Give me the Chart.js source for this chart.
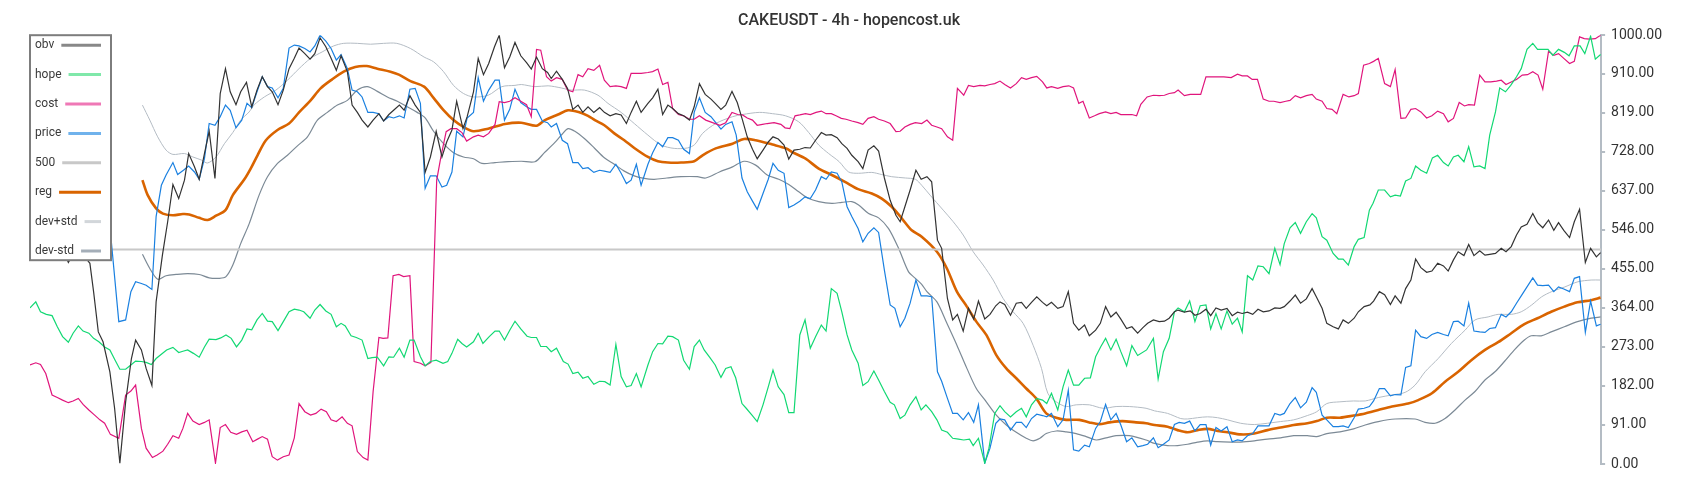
<!DOCTYPE html>
<html>
<head>
<meta charset="utf-8">
<script src="https://cdn.jsdelivr.net/npm/chart.js@4.4.1/dist/chart.umd.min.js"></script>
<style>
  html, body { margin: 0; padding: 0; background: #fff; }
  #wrap { width: 1700px; height: 500px; }
</style>
</head>
<body>
<div id="wrap"><canvas id="chart" width="1700" height="500"></canvas></div>
<script>
// ====== DATA (x = candle index, y = scaled value) ======
const titleText = 'CAKEUSDT - 4h - hopencost.uk';
const yTicks = [0, 91, 182, 273, 364, 455, 546, 637, 728, 819, 910, 1000];
const yMin = 0, yMax = 1000;
const lastIndex = 299;

const obv = [[0,600],[2,570],[4,540],[5.5,520],[7.3,470],[9,505],[11.4,468],[12.1,402],[13,308],[13.9,285],[15.2,215],[16.1,130],[17.1,2],[18.2,145],[19.3,246],[20.1,289],[21.2,266],[22.1,223],[23.2,183],[24,378],[25.2,487],[26.2,565],[27.2,652],[28.3,619],[29.4,662],[30.2,724],[31.3,693],[32.2,664],[33.2,724],[34.1,776],[35.2,666],[36.2,864],[37.2,922],[38.1,868],[39.2,838],[40.1,868],[41.2,890],[42.2,833],[43.2,872],[44.2,903],[45.2,880],[46.1,868],[47.2,838],[48.2,872],[49.3,922],[50.3,946],[51.2,970],[52.3,957],[53.3,944],[54.2,957],[55.2,994],[56.3,973],[57.3,946],[58.3,918],[59.2,952],[60.4,915],[61.3,837],[62.3,820],[63.2,802],[64.3,786],[65.3,802],[66.4,817],[67.3,800],[68.3,815],[69.2,825],[70.3,837],[71.2,825],[72.3,859],[73.3,837],[74.3,820],[75.2,680],[76.2,716],[77.3,776],[78.4,716],[79.3,751],[80.3,779],[81.2,846],[82.4,782],[83.2,810],[84.4,868],[85.3,946],[86.3,908],[87.3,934],[88.4,973],[89.3,1000],[90.3,924],[91.3,949],[92.3,983],[93.4,952],[94.5,936],[95.4,921],[96.4,949],[97.5,922],[98.5,913],[99.2,899],[100.2,916],[101.3,897],[102.3,876],[103.3,827],[104.3,837],[105.2,820],[106.2,833],[107.3,820],[108.4,831],[109.3,820],[110.4,812],[111.5,817],[112.5,814],[113.5,794],[114.4,820],[115.4,846],[116.3,820],[117.6,841],[118.5,854],[119.5,874],[120.4,815],[121.4,837],[122.3,829],[123.4,817],[124.4,812],[125.5,802],[126.4,833],[127.4,887],[128.5,862],[129.6,851],[130.4,841],[131.5,827],[132.4,837],[133.6,869],[134.6,843],[135.6,802],[136.5,763],[137.5,734],[138.4,712],[139.5,732],[140.5,751],[141.4,763],[142.4,758],[143.5,744],[144.4,711],[145.4,732],[146.5,734],[147.5,738],[148.5,737],[149.5,755],[150.6,773],[151.5,767],[152.5,768],[153.6,761],[154.5,747],[155.5,736],[156.4,720],[157.6,705],[158.5,689],[159.5,732],[160.6,742],[161.5,730],[162.6,667],[163.7,615],[164.8,580],[165.6,565],[166.5,600],[167.5,639],[168.6,685],[169.6,664],[170.7,670],[171.6,658],[172.7,522],[173.5,503],[174.6,386],[175.6,336],[176.5,349],[177.6,310],[178.6,363],[179.6,338],[180.5,380],[181.7,338],[182.7,349],[183.8,369],[184.6,378],[185.5,372],[186.6,347],[187.7,375],[188.7,377],[189.6,363],[190.6,377],[191.6,390],[192.7,377],[193.5,369],[194.4,377],[195.6,363],[196.6,367],[197.6,402],[198.6,328],[199.6,312],[200.7,324],[201.6,299],[202.8,312],[203.7,328],[204.7,367],[205.7,343],[206.7,354],[207.6,338],[208.7,316],[209.7,320],[210.8,305],[211.8,318],[212.7,328],[213.8,336],[214.9,332],[215.9,333],[216.8,340],[217.8,355],[218.5,359],[219.7,354],[220.8,357],[221.7,347],[222.7,351],[223.8,361],[224.7,346],[225.7,364],[226.7,359],[227.8,363],[228.8,346],[229.8,354],[230.7,351],[231.7,354],[232.7,349],[233.7,361],[234.7,355],[235.8,357],[236.9,364],[237.9,363],[238.7,367],[239.8,380],[240.8,394],[241.8,375],[242.9,385],[244,409],[244.8,390],[245.9,363],[246.8,328],[248,320],[249,315],[249.9,336],[250.9,328],[252,340],[252.8,355],[253.9,367],[255,371],[255.7,380],[256.8,402],[257.8,395],[258.9,372],[259.8,392],[260.9,375],[261.8,409],[262.8,429],[263.7,478],[264.7,458],[265.8,447],[266.8,450],[267.9,468],[269,462],[269.9,450],[270.9,476],[271.8,495],[272.9,486],[273.8,512],[274.8,486],[275.9,497],[276.9,487],[277.8,489],[278.9,491],[280,503],[280.9,495],[281.9,507],[282.9,534],[283.8,553],[284.9,559],[286,584],[286.9,563],[287.9,551],[289,569],[290,545],[290.9,563],[291.9,545],[293,528],[293.9,565],[294.9,594],[296,470],[297,503],[298.1,483],[298.9,493]];

const hope = [[0,364],[1.1,378],[2,355],[3.1,349],[4.2,346],[5.2,320],[6.2,297],[7.3,284],[8.2,305],[9.2,322],[10.1,310],[11.2,305],[12.1,293],[13.1,285],[14.2,273],[15.2,266],[16.2,242],[17.1,221],[18.2,221],[19.2,231],[20.1,240],[21.2,239],[22.1,237],[23.1,232],[24,246],[25,256],[26,266],[27.2,272],[28.3,260],[29.1,263],[30,266],[31.1,258],[32.2,249],[33.2,273],[34.1,291],[35.4,290],[36.3,294],[37.3,301],[38.3,293],[39.3,273],[40.3,289],[41.3,315],[42.2,313],[43.2,336],[44.2,351],[45.2,333],[46.1,332],[47.2,311],[48.4,336],[49.3,355],[50.3,361],[51.2,359],[52.1,355],[53.3,340],[54.2,359],[55.2,372],[56.3,357],[57.3,349],[58.3,320],[59.2,328],[60,322],[61.1,299],[62.1,295],[63.2,289],[64.3,246],[65.1,248],[66.1,249],[67.3,229],[68.3,250],[69.2,249],[70.3,270],[71.2,249],[72.3,289],[73.1,289],[74.3,250],[75.2,229],[76.2,239],[77.3,242],[78.6,235],[79.5,239],[80.3,258],[81.4,291],[82.2,281],[83.1,273],[84.4,285],[85.3,305],[86.2,281],[87.4,297],[88.5,310],[89.3,310],[90.3,289],[91.3,312],[92.3,333],[93.4,315],[94.6,298],[95.4,295],[96.4,295],[97.2,274],[98.3,274],[99.2,262],[100.2,270],[101.5,239],[102.4,233],[103.3,211],[104.3,214],[105.2,200],[106.2,204],[107.3,186],[108.4,193],[109.4,192],[110.4,184],[111.5,279],[112.5,204],[113.5,180],[114.4,183],[115.4,211],[116.3,180],[117.6,231],[118.5,262],[119.5,281],[120.4,280],[121.4,298],[122.3,297],[123.4,289],[124.4,242],[125.5,221],[126.4,274],[127.4,289],[128.3,266],[129.4,248],[130.4,231],[131.5,202],[132.4,223],[133.4,227],[134.3,201],[135.5,141],[136.3,130],[137.4,114],[138.4,99],[139.5,138],[140.5,180],[141.4,219],[142.4,180],[143.5,162],[144.4,120],[145.4,120],[146.5,301],[147.5,336],[148.5,270],[149.5,297],[150.6,324],[151.5,310],[152.5,409],[153.6,398],[154.5,355],[155.5,301],[156.4,266],[157.6,235],[158.5,183],[159.5,192],[160.6,217],[161.5,196],[162.6,169],[163.7,144],[164.5,138],[165.6,106],[166.5,114],[167.5,138],[168.6,157],[169.6,126],[170.5,138],[171.6,122],[172.6,103],[173.5,79],[174.6,74],[175.6,60],[176.7,58],[177.7,56],[178.8,58],[179.5,43],[180.5,60],[181.7,2],[182.5,37],[183.6,118],[184.6,136],[185.5,122],[186.6,110],[187.7,122],[188.7,130],[189.6,110],[190.6,138],[191.6,153],[192.7,149],[193.5,141],[194.4,165],[195.6,126],[196.6,180],[197.6,219],[198.6,184],[199.6,184],[200.7,200],[201.8,201],[202.8,250],[203.8,274],[204.7,293],[205.7,266],[206.7,291],[207.6,262],[208.7,229],[209.7,276],[210.8,253],[212.5,266],[213.8,293],[214.7,198],[215.7,262],[216.8,293],[217.8,355],[218.5,364],[219.7,355],[220.7,380],[221.7,332],[222.7,369],[223.8,371],[224.7,315],[225.7,351],[226.7,315],[227.8,357],[228.8,326],[229.8,340],[230.7,308],[231.7,439],[232.7,429],[233.7,462],[234.7,460],[235.8,444],[236.9,503],[237.9,465],[238.7,514],[239.8,551],[240.8,563],[241.8,538],[242.9,565],[244,584],[244.8,574],[245.9,530],[246.8,522],[248,491],[249,478],[249.9,478],[250.9,464],[252,507],[252.8,524],[253.9,528],[254.9,592],[255.6,608],[256.6,639],[257.8,639],[258.9,623],[259.8,627],[260.8,625],[261.8,660],[262.8,666],[263.7,695],[264.7,685],[265.8,678],[266.9,714],[267.9,720],[269,703],[269.9,695],[270.9,716],[271.8,720],[272.9,705],[273.8,740],[274.8,693],[275.9,695],[276.9,689],[277.8,767],[278.9,821],[279.7,877],[280.8,868],[281.8,883],[282.9,903],[283.8,922],[284.9,967],[286,981],[286.9,967],[287.9,967],[288.9,967],[289.8,953],[290.9,967],[292,960],[292.9,952],[293.9,975],[295,975],[295.9,957],[297,998],[297.9,944],[298.9,955]];

const cost = [[0,231],[1.1,236],[2,232],[3,211],[4.2,161],[5.2,155],[6.2,149],[7.3,143],[8.2,147],[9.2,153],[10.1,139],[11.2,126],[12.3,114],[13.3,103],[14.2,95],[15.3,69],[16.9,60],[18.2,161],[19.2,170],[20.1,184],[21.2,83],[22.1,37],[23.3,15],[24.2,21],[25.3,30],[26.2,46],[27.2,66],[28.3,60],[29.1,83],[30,118],[31,100],[32.2,92],[33.2,97],[34.1,103],[35.3,2],[36.2,85],[37.2,92],[38.2,74],[39.3,69],[40.3,75],[41.3,79],[42.4,52],[43.3,58],[44.2,64],[45.2,58],[46.1,17],[47.1,9],[48.2,17],[49.3,21],[50.3,61],[51.2,141],[52.3,122],[53.4,114],[54.4,118],[55.4,128],[56.4,122],[57.3,103],[58.3,99],[59.4,110],[60.4,95],[61.3,89],[62.3,29],[63.4,15],[64.3,9],[65.3,169],[66.4,295],[67.2,293],[68.1,294],[69.1,439],[70.2,442],[71.1,437],[72.3,439],[73.1,239],[74.3,235],[75.2,229],[76.3,237],[77.4,662],[78.2,716],[79.2,775],[80.1,782],[81.2,782],[82.2,773],[83.1,753],[84.4,763],[85.3,767],[86.3,763],[87.3,771],[88.5,792],[89.3,845],[90.3,843],[91.3,846],[92.3,854],[93.4,846],[94.5,838],[95.4,810],[96.4,967],[97.2,965],[98.3,903],[99.2,893],[100.2,901],[101.3,897],[102.3,872],[103.3,868],[104.3,908],[105.2,903],[106.2,922],[107.3,918],[108.4,930],[109.3,895],[110.4,880],[111.5,882],[112.5,880],[113.5,876],[114.4,911],[115.4,911],[116.3,911],[117.6,913],[118.5,915],[119.5,921],[120.4,885],[121.4,890],[122.3,829],[123.4,815],[124.4,812],[125.5,804],[126.4,804],[127.4,812],[128.6,802],[129.9,796],[131.3,790],[132.4,796],[133.6,820],[134.7,815],[135.6,814],[136.5,807],[137.5,802],[138.4,790],[139.4,792],[140.3,794],[141.6,796],[142.9,792],[143.7,784],[144.6,782],[145.6,812],[146.5,814],[147.6,817],[148.5,815],[149.6,820],[150.6,823],[151.5,817],[152.5,817],[153.4,812],[154.4,806],[155.3,804],[156.4,800],[157.6,796],[158.5,792],[159.5,806],[160.6,810],[161.5,804],[162.6,800],[163.7,794],[164.8,775],[165.6,776],[166.5,786],[167.5,792],[168.5,796],[169.7,794],[170.7,802],[171.6,790],[172.6,786],[173.5,782],[174.6,763],[175.6,755],[176.5,876],[177.7,860],[178.6,883],[179.6,880],[180.8,883],[181.7,882],[182.7,885],[183.6,887],[184.6,893],[185.5,885],[186.6,877],[187.7,887],[188.7,901],[189.6,897],[190.6,901],[191.6,904],[192.7,891],[193.5,877],[194.4,880],[195.6,876],[196.6,880],[197.7,882],[198.6,877],[199.6,841],[200.4,846],[201.6,807],[202.6,812],[203.5,817],[204.7,821],[205.7,817],[206.7,820],[207.6,815],[208.7,815],[209.7,815],[210.6,812],[211.4,839],[212.6,856],[213.8,860],[214.9,859],[215.9,860],[216.8,864],[217.8,866],[218.5,872],[219.7,859],[220.8,862],[221.7,862],[222.8,862],[223.8,903],[224.7,903],[226,903],[227.2,903],[228.6,901],[229.8,909],[230.7,905],[231.7,905],[232.6,897],[233.6,897],[234.7,851],[235.8,846],[236.7,846],[237.9,843],[239,846],[239.8,848],[240.8,859],[241.8,854],[242.9,859],[244,862],[244.8,851],[245.9,846],[246.8,829],[247.8,827],[248.7,817],[249.9,862],[251,856],[252,859],[252.8,864],[253.8,930],[254.9,934],[255.7,939],[256.6,946],[257.8,887],[258.9,880],[259.8,920],[260.9,806],[261.8,807],[262.8,827],[263.7,829],[264.7,821],[265.8,807],[266.8,812],[267.9,823],[269,817],[269.9,798],[270.9,806],[272,843],[273,835],[273.8,838],[274.9,837],[275.9,907],[276.9,891],[278,891],[279.1,893],[280,895],[280.9,885],[281.9,891],[282.9,897],[284,907],[285,908],[286,915],[287,907],[287.9,874],[289,963],[290,953],[290.9,957],[291.9,946],[293,934],[293.9,939],[294.9,996],[295.8,992],[296.8,991],[297.9,992],[298.9,1000]];

const price = [[0,640],[5,680],[10,660],[14,610],[15.3,542],[16.9,332],[18.2,336],[19.2,402],[20.1,425],[21.2,421],[22.1,417],[23.2,407],[24,577],[25,650],[25.9,674],[27.2,703],[28.1,675],[29.2,685],[30.2,695],[31.3,681],[32.2,664],[33.2,712],[34.1,794],[35.2,790],[36.2,810],[37.2,837],[38.1,825],[39.2,784],[40.3,802],[41.3,841],[42.2,831],[43.2,868],[44.2,903],[45.2,880],[46.1,877],[47.2,854],[48.2,876],[49.3,970],[50.3,977],[51.2,975],[52.3,969],[53.3,961],[54.2,975],[55.2,1000],[56.3,986],[57.3,969],[58.3,942],[59.2,955],[60.4,922],[61.3,872],[62.3,868],[63.2,856],[64.3,820],[65.3,820],[66.4,817],[67.3,800],[68.3,810],[69.2,807],[70.3,812],[71.2,807],[72.3,874],[73.3,876],[74.3,841],[75.2,643],[76.2,672],[77.3,672],[78.4,646],[79.3,650],[80.3,681],[81.2,776],[82.4,763],[83.2,807],[84.4,820],[85.3,901],[86.3,846],[87.3,872],[88.5,895],[89.3,895],[90.3,802],[91.3,827],[92.3,874],[93.4,843],[94.5,833],[95.4,827],[96.4,827],[97.5,800],[98.5,796],[99.2,786],[100.2,794],[101.3,755],[102.3,747],[103.3,703],[104.3,703],[105.2,689],[106.2,691],[107.3,680],[108.4,685],[109.3,683],[110.4,680],[111.5,699],[112.5,678],[113.5,654],[114.4,662],[115.4,699],[116.3,650],[117.6,699],[118.5,726],[119.5,750],[120.4,740],[121.4,761],[122.3,761],[123.4,755],[124.4,734],[125.5,724],[126.4,820],[127.4,854],[128.5,820],[129.6,810],[130.4,798],[131.5,781],[132.4,792],[133.6,798],[134.4,767],[135.5,667],[136.5,635],[137.5,613],[138.4,594],[139.5,631],[140.5,664],[141.4,701],[142.4,685],[143.5,678],[144.4,598],[145.4,604],[146.5,613],[147.5,623],[148.5,619],[149.5,639],[150.6,670],[151.5,664],[152.5,681],[153.6,678],[154.5,658],[155.5,600],[156.4,577],[157.6,549],[158.5,518],[159.5,538],[160.6,551],[161.5,540],[162.6,452],[163.7,371],[164.6,363],[165.6,320],[166.5,340],[167.5,375],[168.6,429],[169.6,392],[170.7,392],[171.6,390],[172.7,215],[173.5,193],[174.6,153],[175.6,118],[176.5,118],[177.6,103],[178.6,120],[179.6,97],[180.5,138],[181.7,2],[182.7,37],[183.8,95],[184.6,105],[185.5,103],[186.6,79],[187.7,97],[188.7,97],[189.6,85],[190.6,106],[191.6,116],[192.7,113],[193.5,110],[194.4,118],[195.6,87],[196.6,103],[197.6,172],[198.6,33],[199.6,30],[200.7,44],[201.6,40],[202.8,83],[203.7,99],[204.7,139],[205.7,103],[206.7,118],[207.6,91],[208.7,52],[209.7,61],[210.8,40],[211.8,43],[212.7,46],[213.8,61],[214.7,38],[215.7,46],[216.8,56],[217.8,92],[218.7,97],[219.7,95],[220.7,100],[221.7,77],[222.7,92],[223.8,92],[224.7,44],[225.7,85],[226.7,77],[227.8,87],[228.8,52],[229.8,56],[230.7,54],[231.7,66],[232.7,71],[233.7,89],[234.7,89],[235.8,89],[236.9,118],[237.9,114],[238.7,118],[239.8,141],[240.8,155],[241.8,131],[242.9,144],[244,178],[244.8,167],[245.9,114],[246.8,103],[248,87],[249,87],[249.9,89],[250.9,85],[252,108],[252.8,128],[253.9,130],[254.9,134],[255.7,147],[256.8,176],[257.8,176],[258.9,159],[259.8,162],[260.9,161],[261.8,225],[262.8,229],[263.7,312],[264.7,297],[265.8,293],[266.8,302],[267.9,307],[269,302],[269.9,299],[270.9,332],[271.8,333],[272.9,322],[273.8,375],[274.8,310],[275.9,308],[276.9,307],[277.8,316],[278.9,318],[280,349],[280.9,343],[281.9,355],[282.9,375],[283.8,392],[284.9,413],[286,434],[286.9,417],[287.9,416],[289,417],[290,402],[290.9,413],[291.9,408],[293,402],[293.9,433],[294.9,437],[296,307],[297,380],[298.1,322],[298.9,326]];

const level500 = [[0,500],[299,500]];

const reg = [[21.4,662],[22.4,627],[24,596],[25.3,584],[27.2,580],[29.1,583],[30.3,582],[32.2,574],[33.8,569],[35.4,579],[37.2,592],[38.6,627],[40.8,664],[42,689],[43.3,720],[44.9,755],[47.1,779],[49.3,794],[51.2,820],[53.4,848],[55.3,876],[57.5,897],[59.7,915],[61.9,926],[64.1,928],[66.1,922],[68.6,915],[70.2,908],[72.4,893],[75,880],[76.8,854],[78.7,825],[80.6,802],[82.5,786],[84.4,776],[87.2,782],[90.4,793],[93.5,796],[96.4,789],[98,802],[100.5,815],[102.4,825],[104.4,821],[106.2,812],[107.5,802],[109.3,790],[111.2,771],[113.1,755],[115,737],[117.6,716],[119.5,706],[121.4,703],[123.9,703],[126.4,706],[128,720],[130.5,736],[133.7,747],[135.9,758],[138.1,755],[141.3,745],[143.9,736],[145.1,727],[147.6,712],[150.1,689],[152.6,674],[155.1,658],[157.6,641],[160.2,631],[162.1,619],[164,600],[165.9,573],[167.8,545],[169.7,530],[172.6,495],[174.5,456],[176.4,402],[178.3,367],[180.1,332],[182,301],[183.9,254],[185.8,223],[187.7,200],[189.6,176],[191.5,153],[193.4,118],[195.3,108],[197.2,103],[199.7,103],[201.6,97],[203.5,93],[205.4,97],[207.9,100],[210.5,97],[212.4,95],[214,91],[216.5,87],[218.4,79],[220.3,74],[222.2,79],[224.1,82],[226,77],[227.9,74],[230.4,69],[233,71],[235.5,79],[238,85],[240.5,91],[243.1,95],[244.9,100],[246.8,108],[249.3,108],[251.9,113],[254.1,118],[256.6,126],[259.2,134],[262.3,141],[264.2,149],[266.8,165],[269.3,192],[271.8,215],[274.3,242],[276.9,266],[279.4,284],[281.9,305],[284.4,326],[286.9,340],[289.5,355],[292,367],[294.5,377],[297.1,382],[298.9,388]];

const devPlus = [[21.4,837],[22.8,802],[24.3,763],[25.9,732],[27.2,722],[29.4,724],[31,716],[32.6,709],[33.8,702],[35.4,716],[37,747],[38.6,773],[40.1,802],[41.7,821],[42.7,838],[44.6,856],[46.8,872],[49,895],[51.2,922],[53.4,946],[55.6,961],[57.8,975],[59.7,981],[62.3,981],[64.8,979],[67.3,981],[69.8,981],[72.4,969],[75,949],[76.8,938],[78.7,915],[80.6,883],[82.5,864],[84.4,856],[87.2,860],[89.8,880],[92.3,883],[93.5,885],[96.1,880],[98.6,882],[101.1,877],[103,872],[105.5,872],[108.1,860],[110,841],[112.5,820],[115,794],[117.6,767],[120.1,744],[122.6,736],[125.1,737],[126.5,745],[128,771],[130.5,794],[133.7,810],[135.6,815],[138.8,820],[141.3,817],[143.8,812],[146.3,798],[148.2,773],[150.1,744],[152,724],[154,705],[155.8,681],[157.7,678],[160.2,680],[162.1,675],[164,670],[166.6,667],[168.5,664],[169.7,650],[171.3,627],[173.8,592],[175.7,565],[177.6,534],[179.5,495],[181.4,464],[183.3,429],[185.2,386],[187.1,355],[189,328],[190.9,277],[192.5,223],[193.7,165],[195.3,145],[197.2,134],[199.1,138],[201.6,138],[204.2,130],[206.7,134],[209.2,134],[212.4,130],[214,124],[216.5,118],[219,106],[220.3,105],[222.2,108],[224.1,110],[226,108],[227.9,103],[230.4,95],[233,92],[235.5,95],[238,99],[240.5,103],[243.1,113],[244.9,122],[246.8,141],[249.3,145],[251.9,147],[254.1,147],[256.6,155],[259.2,161],[261.7,167],[263.6,184],[265.5,215],[268,246],[270.5,281],[273.1,312],[275,336],[277.5,343],[279.4,349],[281.9,349],[283.8,355],[285.8,371],[287.7,390],[289.6,402],[292.1,413],[294.6,425],[297.1,429],[298.9,429]];

const devMinus = [[21.4,489],[22.8,456],[24.3,431],[25.9,439],[27.8,442],[30,444],[32.2,442],[34.1,434],[36,433],[37.3,437],[38.6,464],[40.1,514],[41.7,560],[43.6,627],[45.2,670],[47.1,701],[49,720],[50.9,742],[52.8,763],[54.7,802],[56.6,820],[58.5,837],[60.4,848],[62.3,872],[64.2,880],[66.1,869],[68,856],[69.9,846],[71.8,833],[73.7,820],[75.2,807],[76.8,776],[78.7,747],[80.6,726],[82.5,716],[84.4,712],[86,701],[88.5,703],[91,705],[93.5,706],[96.1,705],[97.9,726],[99.9,750],[101.1,767],[102.4,782],[103.7,776],[105.5,759],[107.4,737],[109.3,714],[111.2,699],[113.1,683],[115,672],[116.9,666],[118.8,664],[121.2,667],[123.9,670],[127,670],[128.6,667],[131.2,681],[133.7,693],[135.9,706],[138.1,697],[140.3,674],[142.5,664],[144.4,652],[146.3,635],[148.2,619],[150.1,612],[152.6,608],[154.5,610],[156.4,612],[157.7,604],[159.6,584],[161.5,574],[163.4,549],[165.3,503],[167.2,448],[168.5,433],[169.7,419],[170.7,402],[172.6,378],[174.5,328],[176.4,277],[178.3,223],[180.1,176],[182,145],[183.9,114],[185.8,91],[187.7,74],[189.6,60],[190.9,54],[192.2,60],[193.4,71],[195.3,77],[197.2,75],[199.1,71],[201,64],[202.9,56],[204.8,61],[206.7,66],[209.2,66],[212.4,56],[214,48],[216.5,43],[218.4,43],[220.3,46],[222.2,51],[224.1,54],[226,52],[228.5,51],[230.4,51],[233,54],[235.5,58],[238,61],[240.5,66],[243.1,66],[244.9,64],[246.8,71],[249.3,75],[251.9,82],[254.1,91],[256.6,99],[259.8,105],[263.6,105],[265.5,97],[267.4,95],[269.3,106],[271.2,126],[273.1,149],[275,169],[276.9,196],[278.8,215],[280.6,239],[282.5,266],[284.4,289],[285.7,299],[287.6,299],[289.5,308],[292,320],[294.5,332],[297.1,340],[298.9,343]];

// ====== HELPERS ======
const pts = arr => arr.map(([x, y]) => ({ x, y }));

function series(label, arr, color, width, legendColor, smooth) {
  return {
    label, data: pts(arr),
    borderColor: color, backgroundColor: color, borderWidth: width,
    pointRadius: 0, fill: false,
    tension: smooth ? 0.3 : 0,
    legendColor,
  };
}

// boxed legend drawn over the top-left corner of the plot
const boxLegend = {
  id: 'boxLegend',
  afterDatasetsDraw(chart) {
    const { ctx, chartArea } = chart;
    const x = chartArea.left, y = chartArea.top, w = 81, h = 225;
    ctx.save();
    ctx.fillStyle = '#fff';
    ctx.fillRect(x, y, w, h);
    ctx.strokeStyle = '#7d7d7d';
    ctx.lineWidth = 2;
    ctx.strokeRect(x, y, w, h);
    ctx.font = '12px Roboto';
    ctx.textBaseline = 'middle';
    chart.data.datasets.forEach((ds, i) => {
      const ty = y + 10 + i * 29.4;
      ctx.fillStyle = '#3a3a3a';
      ctx.fillText(ds.label, x + 5, ty);
      const tw = ctx.measureText(ds.label).width;
      ctx.strokeStyle = ds.legendColor;
      ctx.lineWidth = 3;
      ctx.beginPath();
      ctx.moveTo(x + 5 + tw + 7, ty);
      ctx.lineTo(x + 71, ty);
      ctx.stroke();
    });
    ctx.restore();
  }
};

// ====== CHART ======
new Chart(document.getElementById('chart'), {
  type: 'line',
  data: {
    datasets: [
      series('obv', obv, '#333333', 1.2, '#888888'),
      series('hope', hope, '#12d873', 1.2, '#80e8aa'),
      series('cost', cost, '#e0157c', 1.2, '#ef78b6'),
      series('price', price, '#1a80e0', 1.2, '#70b2ec'),
      series('500', level500, '#c8c8c8', 2, '#c8c8c8'),
      series('reg', reg, '#d96400', 2.6, '#d96400', true),
      series('dev+std', devPlus, '#b4bcc4', 1, '#d2d6da', true),
      series('dev-std', devMinus, '#7c8a96', 1.2, '#a4aeb8', true),
    ]
  },
  options: {
    responsive: false,
    animation: false,
    layout: { padding: { left: 30, right: 32, top: 0, bottom: 36 } },
    plugins: {
      legend: { display: false },
      tooltip: { enabled: false },
      title: {
        display: true, text: titleText, color: '#333',
        font: { family: 'Roboto', size: 16, weight: '500' },
        padding: { top: 11, bottom: 5 }
      }
    },
    scales: {
      x: { type: 'linear', min: 0, max: lastIndex, display: false },
      y: {
        position: 'right', min: yMin, max: yMax,
        afterBuildTicks: axis => { axis.ticks = yTicks.map(v => ({ value: v })); },
        ticks: {
          color: '#333', padding: 6,
          font: { family: 'Roboto', size: 14 },
          callback: v => v.toFixed(2)
        },
        grid: { drawOnChartArea: false, drawTicks: true, tickLength: 4, color: '#b4bcc4', lineWidth: 2 },
        border: { display: true, color: '#b4bcc4', width: 2 }
      }
    }
  },
  plugins: [boxLegend]
});
</script>
</body>
</html>
